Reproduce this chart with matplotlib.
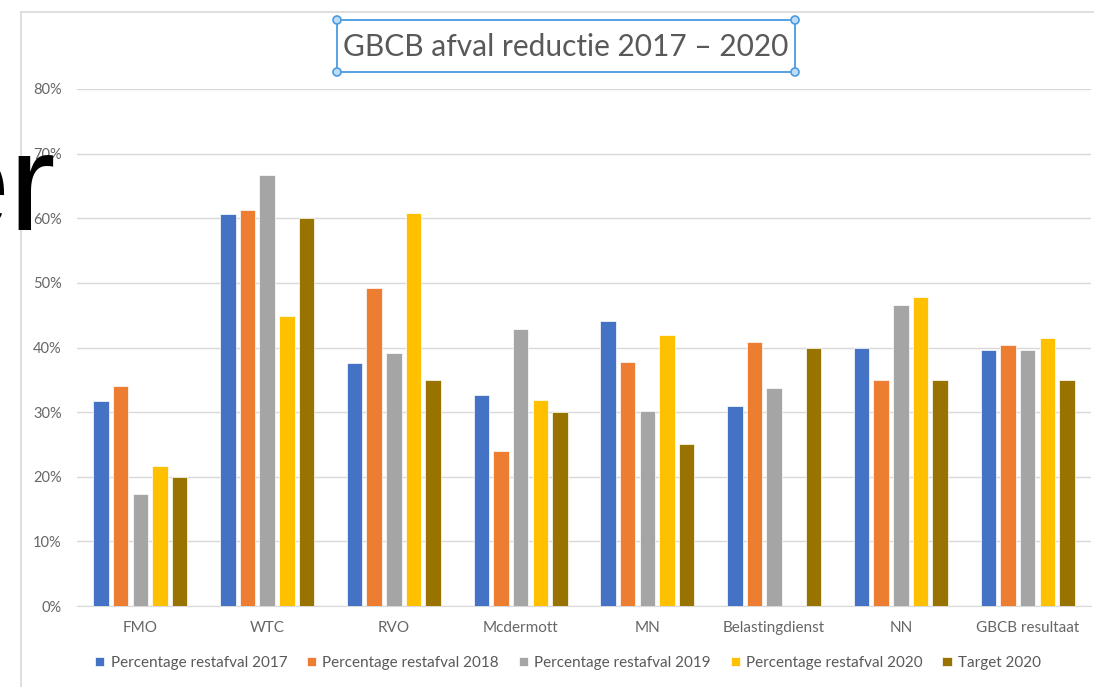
import matplotlib
matplotlib.use("Agg")
import matplotlib.pyplot as plt
import numpy as np
from matplotlib.patches import Rectangle, Circle

plt.rcParams['font.family'] = ['Lato', 'DejaVu Sans']

# data
categories = ['FMO', 'WTC', 'RVO', 'Mcdermott', 'MN', 'Belastingdienst', 'NN', 'GBCB resultaat']
series_names = ['Percentage restafval 2017', 'Percentage restafval 2018',
                'Percentage restafval 2019', 'Percentage restafval 2020', 'Target 2020']
rest_2017 = [0.317, 0.607, 0.376, 0.327, 0.441, 0.309, 0.400, 0.396]
rest_2018 = [0.341, 0.613, 0.492, 0.240, 0.378, 0.409, 0.350, 0.404]
rest_2019 = [0.174, 0.667, 0.391, 0.429, 0.302, 0.337, 0.465, 0.396]
rest_2020 = [0.217, 0.448, 0.608, 0.319, 0.419, 0.0, 0.478, 0.415]
target_2020 = [0.20, 0.60, 0.35, 0.30, 0.25, 0.40, 0.35, 0.35]
yticks = [0, 0.1, 0.2, 0.3, 0.4, 0.5, 0.6, 0.7, 0.8]
ytick_labels = ['0%', '10%', '20%', '30%', '40%', '50%', '60%', '70%', '80%']
title = 'GBCB afval reductie 2017 \u2013 2020'

colors = ['#4472C4', '#ED7D31', '#A5A5A5', '#FFC000', '#997300']
values = [rest_2017, rest_2018, rest_2019, rest_2020, target_2020]

W, H = 1094, 687
fig = plt.figure(figsize=(W / 100, H / 100), dpi=100)
fig.patch.set_facecolor('white')

# plot area in pixels
left, right, top, bottom = 77, 1091, 89, 606
ax = fig.add_axes([left / W, (H - bottom) / H, (right - left) / W, (bottom - top) / H])

x = np.arange(len(categories))
pitch = 0.155
bw = 0.122
for k, (vals, c, name) in enumerate(zip(values, colors, series_names)):
    ax.bar(x + (k - 2) * pitch, vals, width=bw, color=c, label=name,
           edgecolor='white', linewidth=0.5, zorder=3)

ax.set_xlim(-0.5, len(categories) - 0.5)
ax.set_ylim(0, 0.8)
ax.set_yticks(yticks)
ax.set_yticklabels(ytick_labels)
ax.set_xticks(x)
ax.set_xticklabels(categories)
ax.tick_params(axis='both', length=0, colors='#666666', labelsize=11)
ax.tick_params(axis='y', pad=11, labelsize=10.5)
ax.tick_params(axis='x', pad=11)
ax.grid(axis='y', color='#D9D9D9', linewidth=1, zorder=0)
for s in ['top', 'right', 'left']:
    ax.spines[s].set_visible(False)
ax.spines['bottom'].set_color('#D9D9D9')
ax.set_facecolor('none')

handles, labels = ax.get_legend_handles_labels()
fig.legend(handles, labels, loc='center', ncol=5, frameon=False,
           bbox_to_anchor=(568 / W, (H - 663) / H), fontsize=11,
           handlelength=0.6, handleheight=0.6, handletextpad=0.4,
           columnspacing=1.3, labelcolor='#595959')

# overlay in pixel coordinates for the frame, title box and stray text
ov = fig.add_axes([0, 0, 1, 1])
ov.set_xlim(0, W)
ov.set_ylim(H, 0)
ov.axis('off')
ov.set_facecolor('none')

ov.plot([21, W], [12, 12], color='#D9D9D9', lw=1.2)
ov.plot([21, 21], [12, H], color='#D9D9D9', lw=1.2)

bx0, by0, bx1, by1 = 337, 20, 795, 72
ov.add_patch(Rectangle((bx0, by0), bx1 - bx0, by1 - by0, fill=False,
                       edgecolor='#4A9BE0', lw=1.3))
for cx, cy in [(bx0, by0), (bx1, by0), (bx0, by1), (bx1, by1)]:
    ov.add_patch(Circle((cx, cy), 4, facecolor='#BFDDF7', edgecolor='#4A9BE0', lw=1.2, zorder=5))
ov.text((bx0 + bx1) / 2, (by0 + by1) / 2 + 1, title, ha='center', va='center',
        fontsize=21.5, color='#595959')

ov.text(1002, 3, 'Bank', ha='center', va='bottom', fontsize=11, color='#A8A832')

ov.text(55, 230, 'er', ha='right', va='baseline', fontsize=100,
        family=['Liberation Sans', 'DejaVu Sans'], color='black', zorder=10)

fig.savefig('out.png', dpi=100)
